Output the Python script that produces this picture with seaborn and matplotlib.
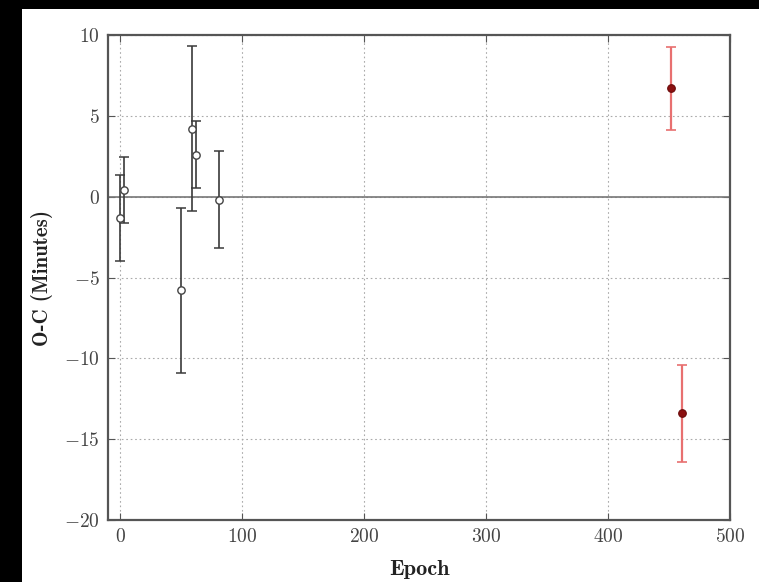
import matplotlib
matplotlib.use("Agg")
import matplotlib.pyplot as plt
import seaborn as sns
import pandas as pd
from matplotlib.patches import Rectangle

# Data
epoch_old = [0, 3, 50, 59, 62, 81]
oc_old = [-1.3, 0.4, -5.8, 4.2, 2.6, -0.2]
err_old = [2.65, 2.05, 5.1, 5.1, 2.05, 3.0]

epoch_new = [452, 461]
oc_new = [6.7, -13.4]
err_new = [2.55, 3.0]

sns.set_style("ticks")
plt.rcParams.update({
    "font.family": "serif",
    "font.serif": ["cmr10", "DejaVu Serif"],
    "mathtext.fontset": "cm",
    "axes.formatter.use_mathtext": True,
    "axes.unicode_minus": True,
})

fig = plt.figure(figsize=(7.59, 5.82), dpi=100)
fig.patch.set_facecolor("black")
fig.patches.append(Rectangle((22/759, 0), 1, 1 - 9/582, transform=fig.transFigure,
                             facecolor="white", edgecolor="none", zorder=-10))
ax = fig.add_axes([108/759, 1 - 520/582, (730 - 108)/759, (520 - 35)/582])

df_old = pd.DataFrame({"Epoch": epoch_old, "OC": oc_old})
df_new = pd.DataFrame({"Epoch": epoch_new, "OC": oc_new})

ax.axhline(0, color="#777777", lw=1.2, zorder=1)
ax.errorbar(epoch_old, oc_old, yerr=err_old, fmt="none", ecolor="#3a3a3a",
            elinewidth=1.2, capsize=3.5, capthick=1.1, zorder=2)
ax.errorbar(epoch_new, oc_new, yerr=err_new, fmt="none", ecolor="#e87070",
            elinewidth=1.6, capsize=3.5, capthick=1.2, zorder=2)
sns.scatterplot(data=df_old, x="Epoch", y="OC", ax=ax, marker="o", s=28,
                facecolor="white", edgecolor="#444444", linewidth=1.0, zorder=3)
sns.scatterplot(data=df_new, x="Epoch", y="OC", ax=ax, marker="o", s=30,
                color="#8b1010", edgecolor="#6a0a0a", linewidth=0.8, zorder=3)

ax.set_xlim(-10, 500)
ax.set_ylim(-20, 10)
ax.set_xticks([0, 100, 200, 300, 400, 500])
ax.set_yticks([-20, -15, -10, -5, 0, 5, 10])
ax.grid(True, color="#aaaaaa", linestyle=(0, (1.5, 2.5)), linewidth=0.8)
ax.set_axisbelow(True)

for sp in ax.spines.values():
    sp.set_visible(True)
    sp.set_color("#555555")
    sp.set_linewidth(1.6)
ax.tick_params(direction="in", top=True, right=True, length=5, width=0.8,
               color="#555555", labelsize=14, labelcolor="#444444", pad=6)

ax.set_xlabel("Epoch", fontsize=16, fontfamily="cmb10", color="#222222", labelpad=10)
ax.set_ylabel("O-C (Minutes)", fontsize=15, fontfamily="cmb10", color="#222222", labelpad=8)

fig.savefig("out.png", dpi=100, facecolor=fig.get_facecolor())
